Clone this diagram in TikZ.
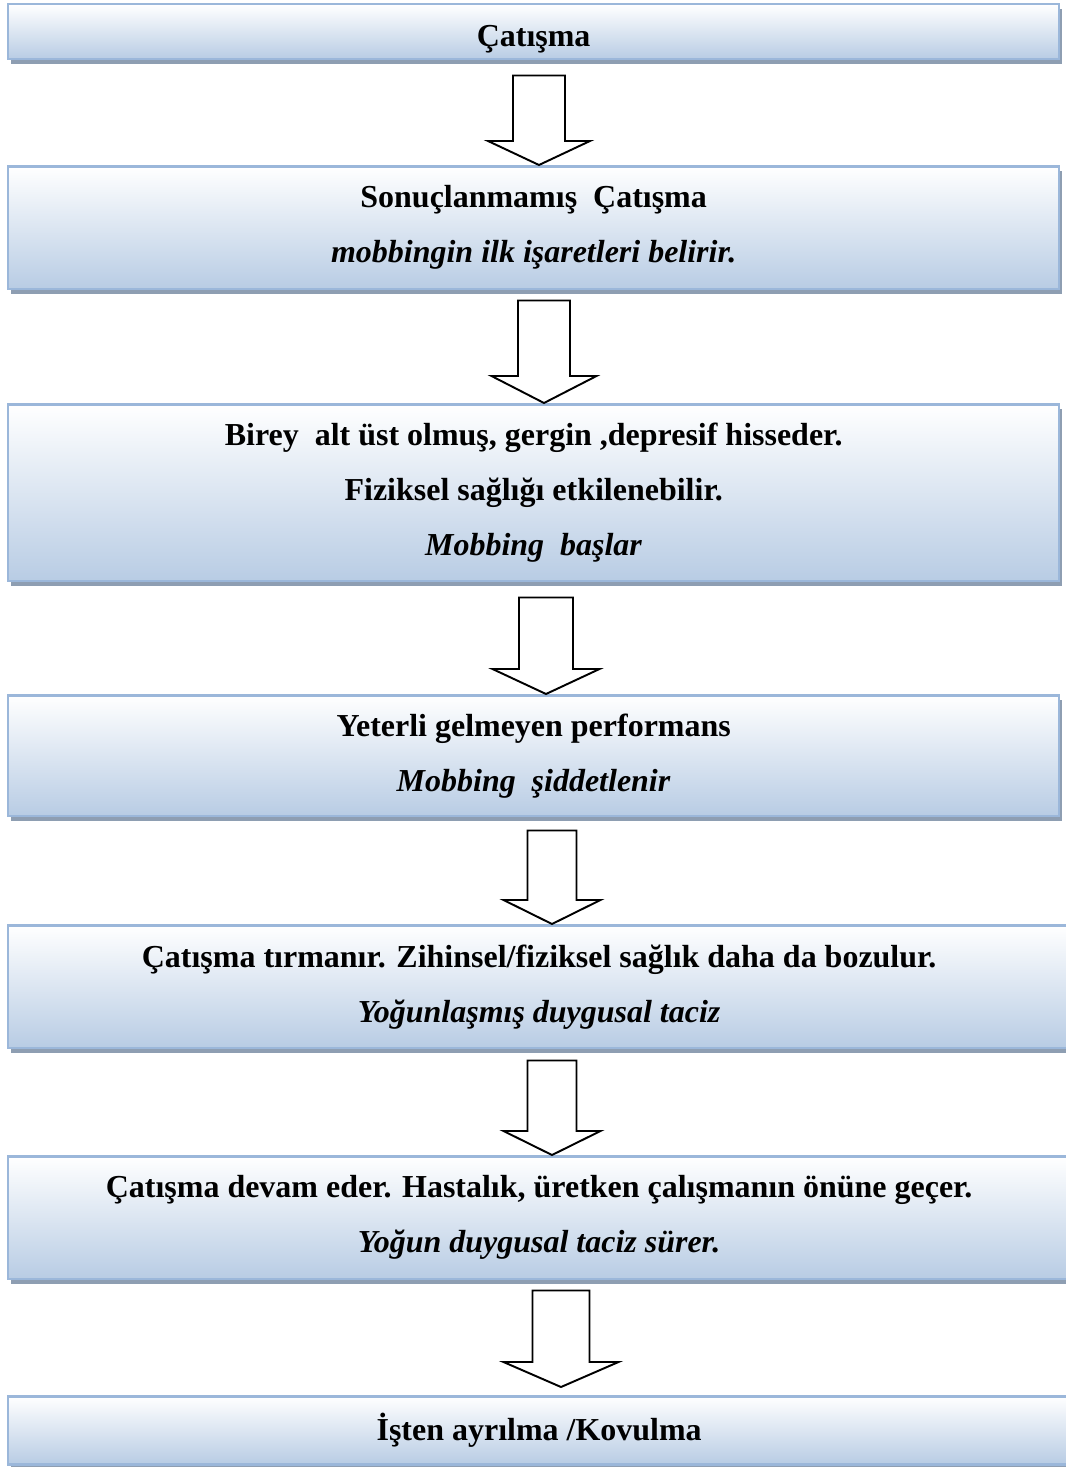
\documentclass[tikz,border=0pt]{standalone}
\usepackage{fontspec}
\setmainfont{Liberation Serif}
\usepackage{xcolor}
\usepackage{tikz}
\usetikzlibrary{calc,shadows}
\definecolor{boxline}{HTML}{9BB7DA}
\definecolor{boxfill}{HTML}{B8CCE4}
\definecolor{boxshadow}{HTML}{8E9EB2}
\tikzset{stagebox/.style={shape=rectangle,draw=boxline,line width=0.05cm,top color=white,bottom color=boxfill,inner sep=0pt,align=center,anchor=north west,minimum width=21.02cm,font=\fontsize{18.2}{31.3}\selectfont\bfseries,drop shadow={shadow xshift=0.06cm,shadow yshift=-0.1cm,fill=boxshadow,opacity=1}}}
\tikzset{downarrow/.style={draw=black,fill=white,line width=1.1pt,line join=miter}}

\begin{document}
\begin{tikzpicture}[x=0.02cm,y=-0.02cm]
	\fill[white] (0,0) rectangle (1065,1467);
	\useasboundingbox (0,0) rectangle (1065,1467);
	%
	\node[stagebox,minimum height=1.1cm,text height=20pt] (b1) at (7,3) {Çatışma};
	\node[stagebox,minimum height=2.46cm] (b2) at (7,165) {Sonuçlanmamış\ \ Çatışma\\\textit{mobbingin ilk işaretleri belirir.}};
	\node[stagebox,minimum height=3.54cm] (b3) at (7,403) {Birey\ \ alt üst olmuş, gergin ,depresif hisseder.\\Fiziksel sağlığı etkilenebilir.\\\textit{Mobbing\ \ başlar}};
	\node[stagebox,minimum height=2.42cm] (b4) at (7,694) {Yeterli gelmeyen performans\\\textit{Mobbing\ \ şiddetlenir}};
	\node[stagebox,minimum height=2.46cm,minimum width=21.24cm] (b5) at (7,924) {Çatışma tırmanır. Zihinsel/fiziksel sağlık daha da bozulur.\\\textit{Yoğunlaşmış duygusal taciz}};
	\node[stagebox,minimum height=2.46cm,minimum width=21.24cm] (b6) at (7,1155) {Çatışma devam eder. Hastalık, üretken çalışmanın önüne geçer.\\\textit{Yoğun duygusal taciz sürer.}};
	\node[stagebox,minimum height=1.36cm,minimum width=21.24cm] (b7) at (7,1395) {İşten ayrılma /Kovulma};
	%
	\foreach \a/\b/\cx/\sw/\hw/\hl/\gap/\tgap in {b1/b2/539/26/51/24/15/0,b2/b3/544/26/52.5/27/10/0,b3/b4/546/27/53.5/25/15/0,b4/b5/552/24.5/48.5/24/13/0,b5/b6/552/24.5/48.5/24/11/0,b6/b7/561/28.5/57.5/25/10/-8}{
		\path (\cx,0) coordinate (ax)
			(\a.south -| ax) ++(0,\gap) coordinate (atop)
			(\b.north -| ax) ++(0,\tgap) coordinate (atip);
		\draw[downarrow] ($(atop)+(-\sw,0)$) -- ($(atop)+(\sw,0)$) -- ($(atip)+(\sw,-\hl)$) -- ($(atip)+(\hw,-\hl)$) -- (atip) -- ($(atip)+(-\hw,-\hl)$) -- ($(atip)+(-\sw,-\hl)$) -- cycle;
	}
\end{tikzpicture}
\end{document}
